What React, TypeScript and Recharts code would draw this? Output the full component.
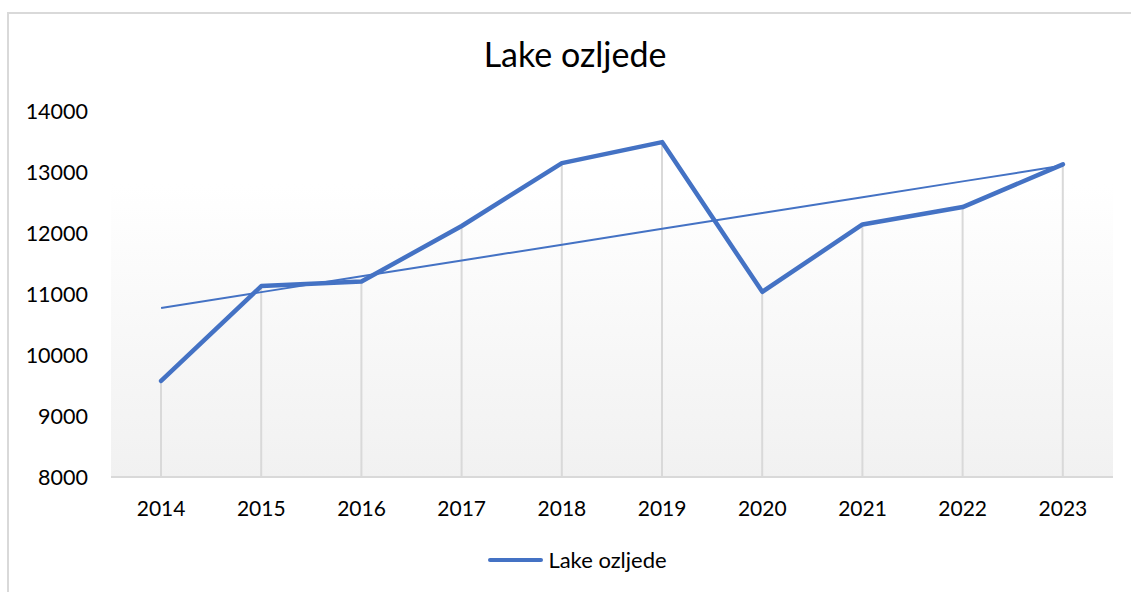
import React from "react";
import {
  Bar,
  CartesianGrid,
  ComposedChart,
  Legend,
  Line,
  XAxis,
  YAxis,
} from "recharts";

const years = ["2014", "2015", "2016", "2017", "2018", "2019", "2020", "2021", "2022", "2023"];
const lakeOzljede = [9575, 11130, 11205, 12115, 13145, 13490, 11035, 12140, 12425, 13125];
const yTicks = [8000, 9000, 10000, 11000, 12000, 13000, 14000];

// linear trendline (least squares) like Excel's
function trend(values: number[]) {
  const n = values.length;
  const mx = (n - 1) / 2;
  const my = values.reduce((a, b) => a + b, 0) / n;
  let num = 0;
  let den = 0;
  values.forEach((v, i) => {
    num += (i - mx) * (v - my);
    den += (i - mx) * (i - mx);
  });
  const slope = num / den;
  return values.map((_, i) => my + slope * (i - mx));
}

const trendValues = trend(lakeOzljede);
const data = years.map((year, i) => ({
  year,
  value: lakeOzljede[i],
  trend: trendValues[i],
}));

const FONT = "Lato, 'Open Sans', sans-serif";

function LegendContent() {
  return (
    <div
      style={{
        display: "flex",
        justifyContent: "center",
        alignItems: "center",
        fontFamily: FONT,
        fontSize: 22,
        color: "#000",
        paddingLeft: 24,
      }}
    >
      <span
        style={{
          display: "inline-block",
          width: 55,
          height: 4,
          borderRadius: 2,
          background: "#4472c4",
          marginRight: 5,
        }}
      />
      <span>Lake ozljede</span>
    </div>
  );
}

export default function App() {
  return (
    <div style={{ position: "absolute", left: 0, top: 0, width: 1131, height: 592, overflow: "hidden", background: "#fff" }}>
      <div
        style={{
          position: "absolute",
          left: 7,
          top: 12,
          width: 1140,
          height: 600,
          border: "2px solid #d9d9d9",
        }}
      />
      <div style={{ position: "absolute", left: 0, top: 0 }}>
        <ComposedChart
          width={1131}
          height={592}
          data={data}
          margin={{ top: 111, right: 18, bottom: 55, left: 16 }}
        >
          <defs>
            <linearGradient id="plotBg" x1="0" y1="0" x2="0" y2="1">
              <stop offset="0%" stopColor="#ffffff" />
              <stop offset="20%" stopColor="#ffffff" />
              <stop offset="100%" stopColor="#f1f1f1" />
            </linearGradient>
          </defs>
          <text
            x={575}
            y={58}
            textAnchor="middle"
            dominantBaseline="middle"
            fontFamily={FONT}
            fontSize={34}
            fill="#000"
          >
            Lake ozljede
          </text>
          <CartesianGrid horizontal={false} vertical={false} fill="url(#plotBg)" />
          <XAxis
            dataKey="year"
            height={60}
            tickLine={false}
            axisLine={{ stroke: "#d9d9d9", strokeWidth: 2 }}
            tickMargin={18}
            tick={{ fill: "#000", fontSize: 21, fontFamily: FONT }}
          />
          <YAxis
            width={95}
            domain={[8000, 14000]}
            ticks={yTicks}
            axisLine={false}
            tickLine={false}
            tickMargin={17}
            tick={{ fill: "#000", fontSize: 21.5, fontFamily: FONT }}
          />
          <Bar
            dataKey="value"
            barSize={2}
            fill="#d9d9d9"
            legendType="none"
            isAnimationActive={false}
          />
          <Line
            dataKey="trend"
            stroke="#4472c4"
            strokeWidth={2}
            dot={false}
            activeDot={false}
            legendType="none"
            isAnimationActive={false}
          />
          <Line
            dataKey="value"
            name="Lake ozljede"
            stroke="#4472c4"
            strokeWidth={4.5}
            strokeLinejoin="round"
            strokeLinecap="round"
            dot={false}
            activeDot={false}
            isAnimationActive={false}
          />
          <Legend
            layout="horizontal"
            verticalAlign="middle"
            align="center"
            content={<LegendContent />}
            wrapperStyle={{ top: 546, left: 0, width: 1131 }}
          />
        </ComposedChart>
      </div>
    </div>
  );
}
